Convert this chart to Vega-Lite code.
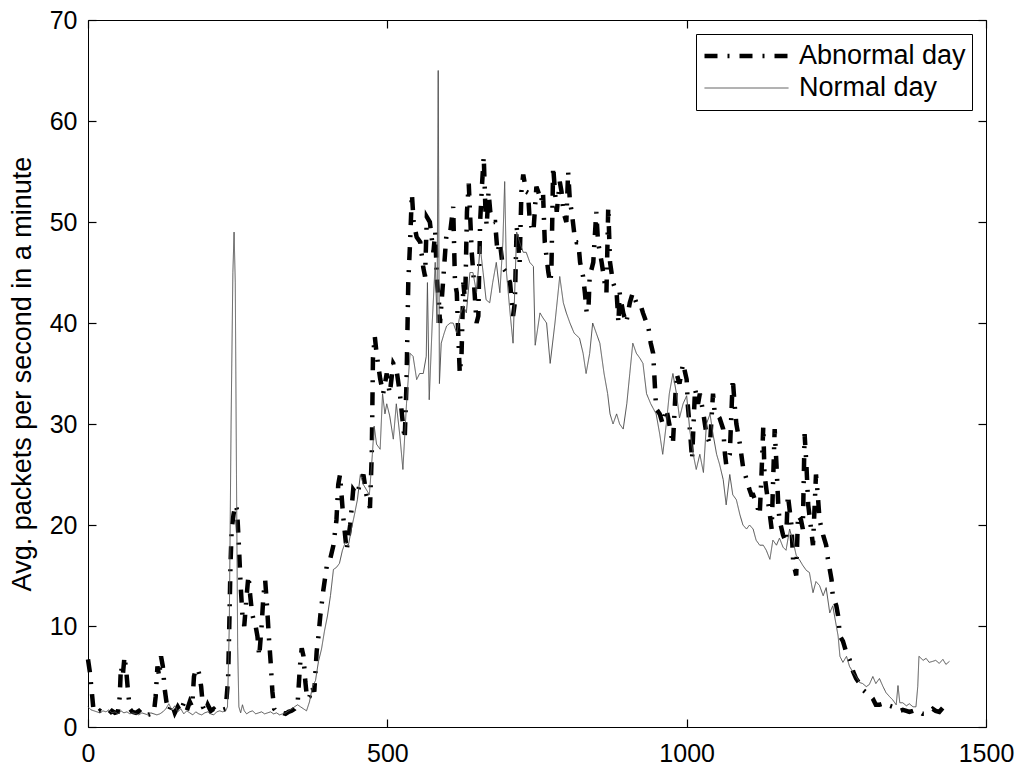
{
"$schema": "https://vega.github.io/schema/vega-lite/v6.json",
"width": 898, "height": 707,
"autosize": {"type": "none"},
"padding": {"left": 88, "top": 20, "right": 38, "bottom": 42},
"background": "white",
"config": {
  "view": {"stroke": "black", "strokeWidth": 1},
  "font": "Liberation Sans",
  "axis": {"domain": false, "grid": false, "ticks": true, "tickColor": "black", "tickSize": 8, "tickWidth": 1.2, "labelFlush": false, "labelFontSize": 25, "labelColor": "black", "labelFont": "Liberation Sans", "titleFont": "Liberation Sans", "titleFontSize": 27, "titleFontWeight": "normal", "titleColor": "black"},
  "legend": {"orient": "top-right", "offset": 14, "strokeColor": "black", "fillColor": "white", "padding": 6, "labelFontSize": 27, "labelFont": "Liberation Sans", "labelColor": "black", "labelLimit": 400, "symbolType": "stroke", "symbolSize": 7056, "clipHeight": 32, "rowPadding": 0, "labelOffset": 8}
},
"data": {"values": [
{"series":"Abnormal day","minute":0,"value":6.7},{"series":"Abnormal day","minute":3,"value":5.5},{"series":"Abnormal day","minute":6,"value":3.7},{"series":"Abnormal day","minute":9,"value":1.8},{"series":"Abnormal day","minute":12,"value":1.5},{"series":"Abnormal day","minute":16,"value":1.4},{"series":"Abnormal day","minute":20,"value":1.6},{"series":"Abnormal day","minute":25,"value":1.4},{"series":"Abnormal day","minute":30,"value":1.5},{"series":"Abnormal day","minute":35,"value":1.3},{"series":"Abnormal day","minute":40,"value":1.6},{"series":"Abnormal day","minute":45,"value":1.4},{"series":"Abnormal day","minute":50,"value":1.5},{"series":"Abnormal day","minute":53,"value":3},{"series":"Abnormal day","minute":55,"value":6},{"series":"Abnormal day","minute":58,"value":5},{"series":"Abnormal day","minute":61,"value":7},{"series":"Abnormal day","minute":64,"value":5.5},{"series":"Abnormal day","minute":67,"value":3.4},{"series":"Abnormal day","minute":70,"value":1.8},{"series":"Abnormal day","minute":74,"value":1.5},{"series":"Abnormal day","minute":80,"value":1.4},{"series":"Abnormal day","minute":85,"value":1.6},{"series":"Abnormal day","minute":90,"value":1.3},{"series":"Abnormal day","minute":95,"value":1.5},{"series":"Abnormal day","minute":100,"value":1.2},{"series":"Abnormal day","minute":105,"value":1.3},{"series":"Abnormal day","minute":110,"value":1.4},{"series":"Abnormal day","minute":113,"value":3},{"series":"Abnormal day","minute":116,"value":6},{"series":"Abnormal day","minute":119,"value":5},{"series":"Abnormal day","minute":122,"value":7},{"series":"Abnormal day","minute":125,"value":6},{"series":"Abnormal day","minute":128,"value":3.8},{"series":"Abnormal day","minute":131,"value":2.5},{"series":"Abnormal day","minute":135,"value":1.6},{"series":"Abnormal day","minute":140,"value":2.3},{"series":"Abnormal day","minute":145,"value":1.4},{"series":"Abnormal day","minute":150,"value":2},{"series":"Abnormal day","minute":155,"value":1.5},{"series":"Abnormal day","minute":160,"value":2.4},{"series":"Abnormal day","minute":165,"value":1.6},{"series":"Abnormal day","minute":170,"value":2.5},{"series":"Abnormal day","minute":174,"value":2},{"series":"Abnormal day","minute":177,"value":5},{"series":"Abnormal day","minute":180,"value":5.7},{"series":"Abnormal day","minute":183,"value":5.8},{"series":"Abnormal day","minute":186,"value":5.2},{"series":"Abnormal day","minute":189,"value":4},{"series":"Abnormal day","minute":192,"value":2},{"series":"Abnormal day","minute":196,"value":1.5},{"series":"Abnormal day","minute":200,"value":2.2},{"series":"Abnormal day","minute":205,"value":1.6},{"series":"Abnormal day","minute":210,"value":1.8},{"series":"Abnormal day","minute":215,"value":1.5},{"series":"Abnormal day","minute":220,"value":1.6},{"series":"Abnormal day","minute":225,"value":1.7},{"series":"Abnormal day","minute":230,"value":1.8},{"series":"Abnormal day","minute":234,"value":4.7},{"series":"Abnormal day","minute":236,"value":10},{"series":"Abnormal day","minute":238,"value":16},{"series":"Abnormal day","minute":240,"value":19.6},{"series":"Abnormal day","minute":243,"value":21},{"series":"Abnormal day","minute":246,"value":22},{"series":"Abnormal day","minute":249,"value":21.5},{"series":"Abnormal day","minute":252,"value":18},{"series":"Abnormal day","minute":255,"value":14},{"series":"Abnormal day","minute":258,"value":11},{"series":"Abnormal day","minute":261,"value":10},{"series":"Abnormal day","minute":265,"value":13},{"series":"Abnormal day","minute":268,"value":15},{"series":"Abnormal day","minute":271,"value":13},{"series":"Abnormal day","minute":274,"value":11.3},{"series":"Abnormal day","minute":277,"value":10.5},{"series":"Abnormal day","minute":280,"value":10},{"series":"Abnormal day","minute":283,"value":9},{"series":"Abnormal day","minute":286,"value":7},{"series":"Abnormal day","minute":290,"value":10},{"series":"Abnormal day","minute":293,"value":13},{"series":"Abnormal day","minute":296,"value":14.5},{"series":"Abnormal day","minute":299,"value":12},{"series":"Abnormal day","minute":302,"value":9},{"series":"Abnormal day","minute":305,"value":6.5},{"series":"Abnormal day","minute":308,"value":3.5},{"series":"Abnormal day","minute":311,"value":1.8},{"series":"Abnormal day","minute":315,"value":1.5},{"series":"Abnormal day","minute":320,"value":1.3},{"series":"Abnormal day","minute":325,"value":1.4},{"series":"Abnormal day","minute":330,"value":1.3},{"series":"Abnormal day","minute":335,"value":1.5},{"series":"Abnormal day","minute":340,"value":1.6},{"series":"Abnormal day","minute":345,"value":1.8},{"series":"Abnormal day","minute":350,"value":2.2},{"series":"Abnormal day","minute":354,"value":6},{"series":"Abnormal day","minute":357,"value":7.8},{"series":"Abnormal day","minute":360,"value":7},{"series":"Abnormal day","minute":363,"value":4.5},{"series":"Abnormal day","minute":366,"value":2.8},{"series":"Abnormal day","minute":370,"value":3},{"series":"Abnormal day","minute":374,"value":4},{"series":"Abnormal day","minute":378,"value":3.5},{"series":"Abnormal day","minute":382,"value":7.5},{"series":"Abnormal day","minute":385,"value":9},{"series":"Abnormal day","minute":388,"value":11},{"series":"Abnormal day","minute":393,"value":13.5},{"series":"Abnormal day","minute":399,"value":16},{"series":"Abnormal day","minute":404,"value":16.5},{"series":"Abnormal day","minute":410,"value":18},{"series":"Abnormal day","minute":415,"value":20.5},{"series":"Abnormal day","minute":418,"value":24},{"series":"Abnormal day","minute":421,"value":25},{"series":"Abnormal day","minute":426,"value":21},{"series":"Abnormal day","minute":432,"value":17.5},{"series":"Abnormal day","minute":438,"value":20},{"series":"Abnormal day","minute":443,"value":23.5},{"series":"Abnormal day","minute":449,"value":23},{"series":"Abnormal day","minute":454,"value":24},{"series":"Abnormal day","minute":460,"value":25},{"series":"Abnormal day","minute":465,"value":23},{"series":"Abnormal day","minute":471,"value":21.7},{"series":"Abnormal day","minute":474,"value":27},{"series":"Abnormal day","minute":476,"value":36.5},{"series":"Abnormal day","minute":479,"value":38.7},{"series":"Abnormal day","minute":482,"value":37},{"series":"Abnormal day","minute":488,"value":34.5},{"series":"Abnormal day","minute":493,"value":33},{"series":"Abnormal day","minute":499,"value":35},{"series":"Abnormal day","minute":504,"value":33},{"series":"Abnormal day","minute":510,"value":36},{"series":"Abnormal day","minute":515,"value":35.5},{"series":"Abnormal day","minute":521,"value":33},{"series":"Abnormal day","minute":526,"value":30},{"series":"Abnormal day","minute":529,"value":28.5},{"series":"Abnormal day","minute":532,"value":34},{"series":"Abnormal day","minute":535,"value":44},{"series":"Abnormal day","minute":538,"value":48},{"series":"Abnormal day","minute":541,"value":52.8},{"series":"Abnormal day","minute":544,"value":50},{"series":"Abnormal day","minute":549,"value":48.5},{"series":"Abnormal day","minute":555,"value":48},{"series":"Abnormal day","minute":560,"value":45.5},{"series":"Abnormal day","minute":563,"value":44.6},{"series":"Abnormal day","minute":566,"value":50.5},{"series":"Abnormal day","minute":571,"value":50},{"series":"Abnormal day","minute":577,"value":47},{"series":"Abnormal day","minute":580,"value":49},{"series":"Abnormal day","minute":583,"value":44},{"series":"Abnormal day","minute":586,"value":42.3},{"series":"Abnormal day","minute":588,"value":40},{"series":"Abnormal day","minute":593,"value":44},{"series":"Abnormal day","minute":599,"value":49},{"series":"Abnormal day","minute":605,"value":49},{"series":"Abnormal day","minute":610,"value":51.5},{"series":"Abnormal day","minute":613,"value":44},{"series":"Abnormal day","minute":616,"value":43},{"series":"Abnormal day","minute":619,"value":38},{"series":"Abnormal day","minute":621,"value":35},{"series":"Abnormal day","minute":624,"value":37},{"series":"Abnormal day","minute":627,"value":44},{"series":"Abnormal day","minute":630,"value":42},{"series":"Abnormal day","minute":633,"value":51},{"series":"Abnormal day","minute":636,"value":53.8},{"series":"Abnormal day","minute":641,"value":47},{"series":"Abnormal day","minute":644,"value":44.6},{"series":"Abnormal day","minute":649,"value":40},{"series":"Abnormal day","minute":652,"value":40.7},{"series":"Abnormal day","minute":655,"value":50},{"series":"Abnormal day","minute":658,"value":53.5},{"series":"Abnormal day","minute":661,"value":56.5},{"series":"Abnormal day","minute":664,"value":51},{"series":"Abnormal day","minute":666,"value":49.6},{"series":"Abnormal day","minute":669,"value":53},{"series":"Abnormal day","minute":672,"value":51},{"series":"Abnormal day","minute":677,"value":50},{"series":"Abnormal day","minute":680,"value":50},{"series":"Abnormal day","minute":684,"value":47},{"series":"Abnormal day","minute":688,"value":48},{"series":"Abnormal day","minute":693,"value":45.5},{"series":"Abnormal day","minute":699,"value":45},{"series":"Abnormal day","minute":705,"value":44},{"series":"Abnormal day","minute":710,"value":40.7},{"series":"Abnormal day","minute":713,"value":42},{"series":"Abnormal day","minute":716,"value":49.6},{"series":"Abnormal day","minute":721,"value":46},{"series":"Abnormal day","minute":724,"value":53},{"series":"Abnormal day","minute":727,"value":54.7},{"series":"Abnormal day","minute":732,"value":53},{"series":"Abnormal day","minute":735,"value":52.9},{"series":"Abnormal day","minute":738,"value":50},{"series":"Abnormal day","minute":744,"value":49},{"series":"Abnormal day","minute":749,"value":53.5},{"series":"Abnormal day","minute":752,"value":53},{"series":"Abnormal day","minute":757,"value":52},{"series":"Abnormal day","minute":760,"value":53},{"series":"Abnormal day","minute":763,"value":48},{"series":"Abnormal day","minute":769,"value":45},{"series":"Abnormal day","minute":772,"value":44},{"series":"Abnormal day","minute":774,"value":45},{"series":"Abnormal day","minute":777,"value":55.5},{"series":"Abnormal day","minute":780,"value":53},{"series":"Abnormal day","minute":783,"value":51},{"series":"Abnormal day","minute":788,"value":54},{"series":"Abnormal day","minute":791,"value":53},{"series":"Abnormal day","minute":794,"value":51},{"series":"Abnormal day","minute":799,"value":50},{"series":"Abnormal day","minute":802,"value":55},{"series":"Abnormal day","minute":805,"value":52},{"series":"Abnormal day","minute":808,"value":51},{"series":"Abnormal day","minute":813,"value":48.5},{"series":"Abnormal day","minute":816,"value":48},{"series":"Abnormal day","minute":819,"value":48},{"series":"Abnormal day","minute":822,"value":46},{"series":"Abnormal day","minute":827,"value":44.6},{"series":"Abnormal day","minute":830,"value":43},{"series":"Abnormal day","minute":833,"value":41},{"series":"Abnormal day","minute":836,"value":41.5},{"series":"Abnormal day","minute":838,"value":44.6},{"series":"Abnormal day","minute":844,"value":46},{"series":"Abnormal day","minute":849,"value":51},{"series":"Abnormal day","minute":852,"value":48},{"series":"Abnormal day","minute":855,"value":47},{"series":"Abnormal day","minute":858,"value":46},{"series":"Abnormal day","minute":863,"value":44},{"series":"Abnormal day","minute":866,"value":43},{"series":"Abnormal day","minute":869,"value":51.5},{"series":"Abnormal day","minute":872,"value":46},{"series":"Abnormal day","minute":877,"value":44},{"series":"Abnormal day","minute":883,"value":43},{"series":"Abnormal day","minute":886,"value":40},{"series":"Abnormal day","minute":888,"value":43},{"series":"Abnormal day","minute":894,"value":41},{"series":"Abnormal day","minute":899,"value":40},{"series":"Abnormal day","minute":905,"value":42},{"series":"Abnormal day","minute":910,"value":43},{"series":"Abnormal day","minute":916,"value":42},{"series":"Abnormal day","minute":922,"value":42},{"series":"Abnormal day","minute":927,"value":41},{"series":"Abnormal day","minute":933,"value":40},{"series":"Abnormal day","minute":935,"value":40},{"series":"Abnormal day","minute":940,"value":38},{"series":"Abnormal day","minute":944,"value":37},{"series":"Abnormal day","minute":949,"value":31.5},{"series":"Abnormal day","minute":955,"value":31},{"series":"Abnormal day","minute":960,"value":30},{"series":"Abnormal day","minute":966,"value":31.5},{"series":"Abnormal day","minute":971,"value":30},{"series":"Abnormal day","minute":977,"value":28},{"series":"Abnormal day","minute":983,"value":35},{"series":"Abnormal day","minute":988,"value":34},{"series":"Abnormal day","minute":994,"value":36},{"series":"Abnormal day","minute":1000,"value":34.4},{"series":"Abnormal day","minute":1002,"value":31.8},{"series":"Abnormal day","minute":1006,"value":29},{"series":"Abnormal day","minute":1009,"value":26.5},{"series":"Abnormal day","minute":1014,"value":33.5},{"series":"Abnormal day","minute":1019,"value":32},{"series":"Abnormal day","minute":1022,"value":33},{"series":"Abnormal day","minute":1028,"value":31},{"series":"Abnormal day","minute":1033,"value":29},{"series":"Abnormal day","minute":1039,"value":28},{"series":"Abnormal day","minute":1044,"value":33},{"series":"Abnormal day","minute":1047,"value":31},{"series":"Abnormal day","minute":1050,"value":31},{"series":"Abnormal day","minute":1055,"value":30.6},{"series":"Abnormal day","minute":1061,"value":29.5},{"series":"Abnormal day","minute":1064,"value":27},{"series":"Abnormal day","minute":1066,"value":26},{"series":"Abnormal day","minute":1072,"value":27},{"series":"Abnormal day","minute":1077,"value":34.5},{"series":"Abnormal day","minute":1080,"value":32},{"series":"Abnormal day","minute":1083,"value":30},{"series":"Abnormal day","minute":1089,"value":28},{"series":"Abnormal day","minute":1094,"value":25.8},{"series":"Abnormal day","minute":1100,"value":24.5},{"series":"Abnormal day","minute":1105,"value":23.5},{"series":"Abnormal day","minute":1108,"value":23},{"series":"Abnormal day","minute":1111,"value":23},{"series":"Abnormal day","minute":1117,"value":22},{"series":"Abnormal day","minute":1122,"value":21},{"series":"Abnormal day","minute":1125,"value":25},{"series":"Abnormal day","minute":1128,"value":29.8},{"series":"Abnormal day","minute":1130,"value":25},{"series":"Abnormal day","minute":1133,"value":23.6},{"series":"Abnormal day","minute":1139,"value":21},{"series":"Abnormal day","minute":1142,"value":19.6},{"series":"Abnormal day","minute":1147,"value":29.5},{"series":"Abnormal day","minute":1150,"value":26},{"series":"Abnormal day","minute":1153,"value":22},{"series":"Abnormal day","minute":1155,"value":20.5},{"series":"Abnormal day","minute":1161,"value":19},{"series":"Abnormal day","minute":1166,"value":18.3},{"series":"Abnormal day","minute":1169,"value":23},{"series":"Abnormal day","minute":1175,"value":20},{"series":"Abnormal day","minute":1178,"value":16.3},{"series":"Abnormal day","minute":1183,"value":15},{"series":"Abnormal day","minute":1186,"value":21},{"series":"Abnormal day","minute":1191,"value":20.5},{"series":"Abnormal day","minute":1194,"value":19.6},{"series":"Abnormal day","minute":1197,"value":29},{"series":"Abnormal day","minute":1200,"value":26},{"series":"Abnormal day","minute":1203,"value":22},{"series":"Abnormal day","minute":1205,"value":21},{"series":"Abnormal day","minute":1211,"value":18},{"series":"Abnormal day","minute":1216,"value":25},{"series":"Abnormal day","minute":1219,"value":23},{"series":"Abnormal day","minute":1222,"value":20.5},{"series":"Abnormal day","minute":1228,"value":19},{"series":"Abnormal day","minute":1233,"value":18},{"series":"Abnormal day","minute":1236,"value":16.6},{"series":"Abnormal day","minute":1242,"value":14.6},{"series":"Abnormal day","minute":1244,"value":13},{"series":"Abnormal day","minute":1250,"value":12},{"series":"Abnormal day","minute":1253,"value":11},{"series":"Abnormal day","minute":1256,"value":9},{"series":"Abnormal day","minute":1261,"value":8.5},{"series":"Abnormal day","minute":1267,"value":7.3},{"series":"Abnormal day","minute":1272,"value":6.7},{"series":"Abnormal day","minute":1278,"value":5.5},{"series":"Abnormal day","minute":1283,"value":4.8},{"series":"Abnormal day","minute":1289,"value":4.3},{"series":"Abnormal day","minute":1294,"value":3.7},{"series":"Abnormal day","minute":1300,"value":3.4},{"series":"Abnormal day","minute":1305,"value":3.2},{"series":"Abnormal day","minute":1311,"value":2.8},{"series":"Abnormal day","minute":1316,"value":2.2},{"series":"Abnormal day","minute":1322,"value":2.2},{"series":"Abnormal day","minute":1333,"value":2.4},{"series":"Abnormal day","minute":1339,"value":2.1},{"series":"Abnormal day","minute":1344,"value":2},{"series":"Abnormal day","minute":1350,"value":1.7},{"series":"Abnormal day","minute":1356,"value":1.6},{"series":"Abnormal day","minute":1361,"value":1.7},{"series":"Abnormal day","minute":1367,"value":1.6},{"series":"Abnormal day","minute":1372,"value":1.5},{"series":"Abnormal day","minute":1378,"value":1.6},{"series":"Abnormal day","minute":1383,"value":1.7},{"series":"Abnormal day","minute":1389,"value":1.5},{"series":"Abnormal day","minute":1394,"value":1.3},{"series":"Abnormal day","minute":1400,"value":1.3},{"series":"Abnormal day","minute":1405,"value":1.5},{"series":"Abnormal day","minute":1411,"value":1.8},{"series":"Abnormal day","minute":1416,"value":1.6},{"series":"Abnormal day","minute":1422,"value":1.5},{"series":"Abnormal day","minute":1428,"value":1.9},{"series":"Abnormal day","minute":1433,"value":2.3},
{"series":"Normal day","minute":0,"value":2.0},{"series":"Normal day","minute":5,"value":1.7},{"series":"Normal day","minute":10,"value":1.6},{"series":"Normal day","minute":15,"value":1.5},{"series":"Normal day","minute":20,"value":1.4},{"series":"Normal day","minute":25,"value":1.6},{"series":"Normal day","minute":30,"value":1.5},{"series":"Normal day","minute":35,"value":1.7},{"series":"Normal day","minute":40,"value":1.4},{"series":"Normal day","minute":45,"value":1.5},{"series":"Normal day","minute":50,"value":1.3},{"series":"Normal day","minute":55,"value":1.6},{"series":"Normal day","minute":60,"value":1.4},{"series":"Normal day","minute":65,"value":1.5},{"series":"Normal day","minute":70,"value":1.3},{"series":"Normal day","minute":75,"value":1.4},{"series":"Normal day","minute":80,"value":1.3},{"series":"Normal day","minute":85,"value":1.2},{"series":"Normal day","minute":90,"value":1.4},{"series":"Normal day","minute":95,"value":1.3},{"series":"Normal day","minute":100,"value":1.2},{"series":"Normal day","minute":105,"value":1.4},{"series":"Normal day","minute":110,"value":1.3},{"series":"Normal day","minute":115,"value":1.2},{"series":"Normal day","minute":120,"value":1.3},{"series":"Normal day","minute":125,"value":1.5},{"series":"Normal day","minute":130,"value":1.8},{"series":"Normal day","minute":135,"value":2.3},{"series":"Normal day","minute":140,"value":1.7},{"series":"Normal day","minute":145,"value":2.1},{"series":"Normal day","minute":150,"value":1.5},{"series":"Normal day","minute":155,"value":1.8},{"series":"Normal day","minute":160,"value":1.3},{"series":"Normal day","minute":165,"value":1.6},{"series":"Normal day","minute":170,"value":1.4},{"series":"Normal day","minute":175,"value":1.2},{"series":"Normal day","minute":180,"value":1.5},{"series":"Normal day","minute":185,"value":1.3},{"series":"Normal day","minute":190,"value":1.2},{"series":"Normal day","minute":195,"value":1.4},{"series":"Normal day","minute":200,"value":1.5},{"series":"Normal day","minute":205,"value":1.3},{"series":"Normal day","minute":210,"value":1.2},{"series":"Normal day","minute":215,"value":1.5},{"series":"Normal day","minute":220,"value":1.6},{"series":"Normal day","minute":225,"value":1.5},{"series":"Normal day","minute":230,"value":1.6},{"series":"Normal day","minute":233,"value":2},{"series":"Normal day","minute":236,"value":10},{"series":"Normal day","minute":239,"value":30},{"series":"Normal day","minute":242,"value":45},{"series":"Normal day","minute":244,"value":49},{"series":"Normal day","minute":246,"value":44},{"series":"Normal day","minute":248,"value":25},{"series":"Normal day","minute":250,"value":8},{"series":"Normal day","minute":252,"value":2},{"series":"Normal day","minute":255,"value":1.4},{"series":"Normal day","minute":258,"value":2.2},{"series":"Normal day","minute":261,"value":1.6},{"series":"Normal day","minute":265,"value":1.3},{"series":"Normal day","minute":270,"value":1.5},{"series":"Normal day","minute":275,"value":1.6},{"series":"Normal day","minute":280,"value":1.3},{"series":"Normal day","minute":285,"value":1.4},{"series":"Normal day","minute":290,"value":1.5},{"series":"Normal day","minute":295,"value":1.3},{"series":"Normal day","minute":300,"value":1.4},{"series":"Normal day","minute":305,"value":1.5},{"series":"Normal day","minute":310,"value":1.3},{"series":"Normal day","minute":315,"value":1.4},{"series":"Normal day","minute":320,"value":1.2},{"series":"Normal day","minute":325,"value":1.3},{"series":"Normal day","minute":330,"value":1.4},{"series":"Normal day","minute":335,"value":1.6},{"series":"Normal day","minute":340,"value":1.8},{"series":"Normal day","minute":345,"value":2.0},{"series":"Normal day","minute":350,"value":2.2},{"series":"Normal day","minute":355,"value":2.0},{"series":"Normal day","minute":360,"value":1.8},{"series":"Normal day","minute":365,"value":1.6},{"series":"Normal day","minute":370,"value":2.5},{"series":"Normal day","minute":375,"value":4.0},{"series":"Normal day","minute":380,"value":4.6},{"series":"Normal day","minute":385,"value":6.5},{"series":"Normal day","minute":390,"value":7.7},{"series":"Normal day","minute":395,"value":9.5},{"series":"Normal day","minute":400,"value":11},{"series":"Normal day","minute":405,"value":13},{"series":"Normal day","minute":410,"value":15.6},{"series":"Normal day","minute":415,"value":15.8},{"series":"Normal day","minute":420,"value":16.2},{"series":"Normal day","minute":425,"value":17.5},{"series":"Normal day","minute":430,"value":18.3},{"series":"Normal day","minute":435,"value":18},{"series":"Normal day","minute":440,"value":19.6},{"series":"Normal day","minute":445,"value":21},{"series":"Normal day","minute":450,"value":22.5},{"series":"Normal day","minute":455,"value":25},{"series":"Normal day","minute":460,"value":24},{"series":"Normal day","minute":465,"value":23.5},{"series":"Normal day","minute":470,"value":23},{"series":"Normal day","minute":475,"value":27},{"series":"Normal day","minute":478,"value":29.8},{"series":"Normal day","minute":482,"value":28},{"series":"Normal day","minute":488,"value":27.5},{"series":"Normal day","minute":492,"value":33},{"series":"Normal day","minute":496,"value":31},{"series":"Normal day","minute":499,"value":32},{"series":"Normal day","minute":504,"value":30.8},{"series":"Normal day","minute":510,"value":28.5},{"series":"Normal day","minute":515,"value":32},{"series":"Normal day","minute":521,"value":28.8},{"series":"Normal day","minute":526,"value":25.5},{"series":"Normal day","minute":532,"value":32},{"series":"Normal day","minute":538,"value":37},{"series":"Normal day","minute":543,"value":36.7},{"series":"Normal day","minute":549,"value":34.4},{"series":"Normal day","minute":554,"value":35},{"series":"Normal day","minute":560,"value":35},{"series":"Normal day","minute":565,"value":36.7},{"series":"Normal day","minute":567,"value":44},{"series":"Normal day","minute":570,"value":32.4},{"series":"Normal day","minute":575,"value":40},{"series":"Normal day","minute":580,"value":46},{"series":"Normal day","minute":583,"value":40},{"series":"Normal day","minute":585,"value":65},{"series":"Normal day","minute":587,"value":34},{"series":"Normal day","minute":590,"value":38},{"series":"Normal day","minute":595,"value":39},{"series":"Normal day","minute":599,"value":39.7},{"series":"Normal day","minute":605,"value":40},{"series":"Normal day","minute":610,"value":40},{"series":"Normal day","minute":616,"value":39},{"series":"Normal day","minute":621,"value":40.7},{"series":"Normal day","minute":627,"value":41.7},{"series":"Normal day","minute":632,"value":41},{"series":"Normal day","minute":638,"value":45},{"series":"Normal day","minute":643,"value":45},{"series":"Normal day","minute":649,"value":43},{"series":"Normal day","minute":655,"value":47.6},{"series":"Normal day","minute":660,"value":45},{"series":"Normal day","minute":665,"value":42.3},{"series":"Normal day","minute":671,"value":42},{"series":"Normal day","minute":676,"value":44},{"series":"Normal day","minute":682,"value":46},{"series":"Normal day","minute":688,"value":43},{"series":"Normal day","minute":693,"value":48},{"series":"Normal day","minute":696,"value":54},{"series":"Normal day","minute":699,"value":45},{"series":"Normal day","minute":705,"value":41},{"series":"Normal day","minute":710,"value":38},{"series":"Normal day","minute":716,"value":49},{"series":"Normal day","minute":721,"value":48},{"series":"Normal day","minute":727,"value":47},{"series":"Normal day","minute":732,"value":47},{"series":"Normal day","minute":738,"value":46},{"series":"Normal day","minute":744,"value":45.6},{"series":"Normal day","minute":747,"value":37.8},{"series":"Normal day","minute":755,"value":41},{"series":"Normal day","minute":760,"value":40.5},{"series":"Normal day","minute":766,"value":40},{"series":"Normal day","minute":772,"value":36},{"series":"Normal day","minute":780,"value":40},{"series":"Normal day","minute":788,"value":44.6},{"series":"Normal day","minute":794,"value":42},{"series":"Normal day","minute":799,"value":41},{"series":"Normal day","minute":805,"value":40},{"series":"Normal day","minute":812,"value":39},{"series":"Normal day","minute":821,"value":38.5},{"series":"Normal day","minute":827,"value":37},{"series":"Normal day","minute":832,"value":35},{"series":"Normal day","minute":838,"value":37},{"series":"Normal day","minute":843,"value":40},{"series":"Normal day","minute":849,"value":39},{"series":"Normal day","minute":855,"value":38},{"series":"Normal day","minute":862,"value":35},{"series":"Normal day","minute":868,"value":33},{"series":"Normal day","minute":872,"value":31},{"series":"Normal day","minute":877,"value":30},{"series":"Normal day","minute":883,"value":31},{"series":"Normal day","minute":888,"value":30},{"series":"Normal day","minute":894,"value":29.5},{"series":"Normal day","minute":900,"value":32},{"series":"Normal day","minute":905,"value":35},{"series":"Normal day","minute":910,"value":38},{"series":"Normal day","minute":916,"value":37},{"series":"Normal day","minute":922,"value":36.5},{"series":"Normal day","minute":927,"value":36},{"series":"Normal day","minute":933,"value":33},{"series":"Normal day","minute":940,"value":32},{"series":"Normal day","minute":949,"value":31},{"series":"Normal day","minute":955,"value":29},{"series":"Normal day","minute":960,"value":27},{"series":"Normal day","minute":966,"value":30},{"series":"Normal day","minute":971,"value":33},{"series":"Normal day","minute":977,"value":35},{"series":"Normal day","minute":983,"value":33},{"series":"Normal day","minute":988,"value":30.6},{"series":"Normal day","minute":994,"value":32},{"series":"Normal day","minute":1000,"value":32.8},{"series":"Normal day","minute":1005,"value":29.5},{"series":"Normal day","minute":1011,"value":27},{"series":"Normal day","minute":1016,"value":25.5},{"series":"Normal day","minute":1022,"value":27},{"series":"Normal day","minute":1028,"value":25.2},{"series":"Normal day","minute":1033,"value":30},{"series":"Normal day","minute":1039,"value":31},{"series":"Normal day","minute":1044,"value":29},{"series":"Normal day","minute":1050,"value":27},{"series":"Normal day","minute":1055,"value":26},{"series":"Normal day","minute":1061,"value":24.5},{"series":"Normal day","minute":1066,"value":22},{"series":"Normal day","minute":1072,"value":25},{"series":"Normal day","minute":1077,"value":23},{"series":"Normal day","minute":1083,"value":22.5},{"series":"Normal day","minute":1089,"value":21},{"series":"Normal day","minute":1094,"value":20},{"series":"Normal day","minute":1100,"value":19.6},{"series":"Normal day","minute":1105,"value":20},{"series":"Normal day","minute":1111,"value":19.6},{"series":"Normal day","minute":1116,"value":18.5},{"series":"Normal day","minute":1122,"value":18},{"series":"Normal day","minute":1128,"value":18},{"series":"Normal day","minute":1133,"value":17.5},{"series":"Normal day","minute":1139,"value":16.6},{"series":"Normal day","minute":1144,"value":18.5},{"series":"Normal day","minute":1150,"value":18},{"series":"Normal day","minute":1155,"value":18.7},{"series":"Normal day","minute":1161,"value":17.8},{"series":"Normal day","minute":1166,"value":17.5},{"series":"Normal day","minute":1172,"value":19.6},{"series":"Normal day","minute":1178,"value":18.3},{"series":"Normal day","minute":1183,"value":17},{"series":"Normal day","minute":1189,"value":16.5},{"series":"Normal day","minute":1194,"value":16},{"series":"Normal day","minute":1200,"value":15.5},{"series":"Normal day","minute":1205,"value":15.3},{"series":"Normal day","minute":1211,"value":13.3},{"series":"Normal day","minute":1216,"value":14.4},{"series":"Normal day","minute":1222,"value":14},{"series":"Normal day","minute":1228,"value":13},{"series":"Normal day","minute":1233,"value":13.8},{"series":"Normal day","minute":1239,"value":11.3},{"series":"Normal day","minute":1244,"value":12},{"series":"Normal day","minute":1250,"value":10},{"series":"Normal day","minute":1253,"value":9},{"series":"Normal day","minute":1256,"value":7},{"series":"Normal day","minute":1261,"value":6.4},{"series":"Normal day","minute":1267,"value":7},{"series":"Normal day","minute":1272,"value":6},{"series":"Normal day","minute":1278,"value":5.4},{"series":"Normal day","minute":1283,"value":5},{"series":"Normal day","minute":1289,"value":4.4},{"series":"Normal day","minute":1294,"value":4.3},{"series":"Normal day","minute":1300,"value":4},{"series":"Normal day","minute":1305,"value":4.2},{"series":"Normal day","minute":1311,"value":5},{"series":"Normal day","minute":1316,"value":4.3},{"series":"Normal day","minute":1322,"value":4.8},{"series":"Normal day","minute":1328,"value":4},{"series":"Normal day","minute":1333,"value":3.4},{"series":"Normal day","minute":1339,"value":3},{"series":"Normal day","minute":1344,"value":2.7},{"series":"Normal day","minute":1350,"value":2.2},{"series":"Normal day","minute":1353,"value":4.1},{"series":"Normal day","minute":1356,"value":2.4},{"series":"Normal day","minute":1361,"value":2.4},{"series":"Normal day","minute":1367,"value":2.1},{"series":"Normal day","minute":1372,"value":2.3},{"series":"Normal day","minute":1378,"value":2},{"series":"Normal day","minute":1383,"value":2},{"series":"Normal day","minute":1386,"value":4},{"series":"Normal day","minute":1388,"value":7},{"series":"Normal day","minute":1395,"value":6.6},{"series":"Normal day","minute":1400,"value":6.8},{"series":"Normal day","minute":1405,"value":6.4},{"series":"Normal day","minute":1411,"value":6.5},{"series":"Normal day","minute":1416,"value":6.6},{"series":"Normal day","minute":1422,"value":6.3},{"series":"Normal day","minute":1428,"value":6.7},{"series":"Normal day","minute":1433,"value":6.2},{"series":"Normal day","minute":1439,"value":6.5}
]},
"layer": [
  {
    "transform": [{"filter": "datum.series === 'Abnormal day'"}],
    "mark": {"type": "line"},
    "encoding": {
      "x": {"field": "minute", "type": "quantitative", "scale": {"domain": [0, 1500], "nice": false}, "axis": {"values": [0, 500, 1000, 1500], "format": "d", "title": null, "offset": -8, "tickSize": 8, "labelPadding": 14, "orient": "bottom"}},
      "y": {"field": "value", "type": "quantitative", "scale": {"domain": [0, 70], "nice": false}, "axis": {"values": [0, 10, 20, 30, 40, 50, 60, 70], "format": "d", "title": "Avg. packets per second in a minute", "offset": -8, "tickSize": 8, "labelPadding": 11, "titlePadding": 13, "orient": "left"}},
      "color": {"field": "series", "type": "nominal", "scale": {"domain": ["Abnormal day", "Normal day"], "range": ["#000000", "#505050"]}, "legend": {"title": null}},
      "strokeDash": {"field": "series", "type": "nominal", "scale": {"domain": ["Abnormal day", "Normal day"], "range": [[13, 10, 2, 10], [1, 0]]}, "legend": {"title": null}},
      "strokeWidth": {"field": "series", "type": "nominal", "scale": {"domain": ["Abnormal day", "Normal day"], "range": [4.5, 1]}, "legend": {"title": null}}
    }
  },
  {
    "transform": [{"filter": "datum.series === 'Normal day'"}],
    "mark": {"type": "line"},
    "encoding": {
      "x": {"field": "minute", "type": "quantitative", "scale": {"domain": [0, 1500], "nice": false}, "axis": {"values": [0, 500, 1000, 1500], "title": null, "labels": false, "tickSize": -8, "orient": "top"}},
      "y": {"field": "value", "type": "quantitative", "scale": {"domain": [0, 70], "nice": false}, "axis": {"values": [0, 10, 20, 30, 40, 50, 60, 70], "title": null, "labels": false, "offset": -8, "tickSize": 8, "orient": "right"}},
      "color": {"field": "series", "type": "nominal", "scale": {"domain": ["Abnormal day", "Normal day"], "range": ["#000000", "#505050"]}, "legend": {"title": null}},
      "strokeDash": {"field": "series", "type": "nominal", "scale": {"domain": ["Abnormal day", "Normal day"], "range": [[13, 10, 2, 10], [1, 0]]}, "legend": {"title": null}},
      "strokeWidth": {"field": "series", "type": "nominal", "scale": {"domain": ["Abnormal day", "Normal day"], "range": [4.5, 1]}, "legend": {"title": null}}
    }
  }
],
"resolve": {"axis": {"x": "independent", "y": "independent"}}
}
